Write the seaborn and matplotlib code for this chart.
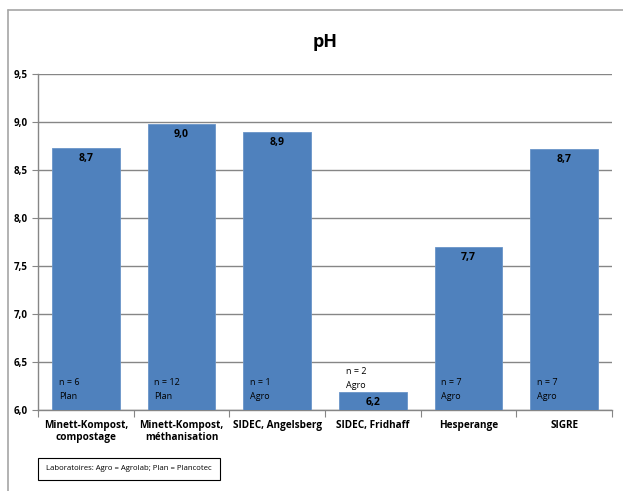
import pandas as pd
import matplotlib.pyplot as plt
import seaborn as sns
from matplotlib.lines import Line2D
from matplotlib.ticker import FuncFormatter

sites = ["Minett-Kompost,\ncompostage", "Minett-Kompost,\nméthanisation",
         "SIDEC, Angelsberg", "SIDEC, Fridhaff", "Hesperange", "SIGRE"]
ph_values = [8.73, 8.98, 8.90, 6.19, 7.70, 8.72]
n_samples = [6, 12, 1, 2, 7, 7]
labs = ["Plan", "Plan", "Agro", "Agro", "Agro", "Agro"]

sns.set_style("white")
plt.rcParams['font.family'] = ['Open Sans', 'DejaVu Sans']
plt.rcParams['text.color'] = 'black'
plt.rcParams['xtick.color'] = 'black'
plt.rcParams['ytick.color'] = 'black'

df = pd.DataFrame({"site": sites, "ph": ph_values})

W, H = 623, 491
fig = plt.figure(figsize=(W / 100, H / 100), dpi=100)
ax = fig.add_axes([38 / W, 1 - 410 / H, (612 - 38) / W, (410 - 74) / H])

sns.barplot(data=df, x="site", y="ph", color="#4F81BD", width=0.71,
            saturation=1, edgecolor="#6A94C8", linewidth=0.6, ax=ax, zorder=3)

ax.set_ylim(6.0, 9.5)
ax.set_xlim(-0.5, len(sites) - 0.5)
ax.set_yticks([6.0 + 0.5 * i for i in range(8)])
ax.yaxis.set_major_formatter(FuncFormatter(lambda v, p: f"{v:.1f}".replace(".", ",")))
ax.grid(axis="y", color="#868686", linewidth=1, zorder=0)
ax.set_axisbelow(True)
ax.set_xlabel("")
ax.set_ylabel("")

for s in ["top", "right"]:
    ax.spines[s].set_visible(False)
for s in ["left", "bottom"]:
    ax.spines[s].set_color("#868686")
    ax.spines[s].set_linewidth(1)

# category separators as ticks
ax.set_xticks([i - 0.5 for i in range(len(sites) + 1)], minor=False)
ax.set_xticklabels([])
ax.set_xticks(range(len(sites)), minor=True)
ax.set_xticklabels(sites, minor=True, fontsize=7.2, fontweight="bold")
ax.tick_params(axis="x", which="major", length=5, color="#868686", direction="out")
ax.tick_params(axis="x", which="minor", length=0, pad=7)
ax.tick_params(axis="y", length=4, color="#868686", labelcolor="black",
               direction="out", labelsize=7)
for t in ax.get_yticklabels():
    t.set_fontweight("bold")
ax.tick_params(axis="x", bottom=True, labelcolor="black")
ax.tick_params(axis="y", left=True)

for i, (v, n, lab) in enumerate(zip(ph_values, n_samples, labs)):
    ax.annotate(f"{v:.1f}".replace(".", ","), (i, v), xytext=(0, -7.5),
                textcoords="offset points", ha="center", va="center",
                fontsize=7.5, fontweight="bold", color="black", zorder=5)
    if v - 6.0 < 0.4:
        y0, off = v, 18
    else:
        y0, off = 6.0, 23
    ax.annotate(f"n = {n}\n{lab}", (i - 0.355, y0), xytext=(5, off),
                textcoords="offset points", ha="left", va="top",
                fontsize=6.5, linespacing=1.75, color="black", zorder=5)

fig.text(325 / W, 1 - 42 / H, "pH", ha="center", va="center",
         fontsize=13, fontweight="bold", color="black")

fig.text(129 / W, 1 - 469 / H, "Laboratoires: Agro = Agrolab; Plan = Plancotec",
         ha="center", va="center", fontsize=5.6, color="black",
         bbox=dict(boxstyle="square,pad=1.0", facecolor="white",
                   edgecolor="black", linewidth=0.8))

# outer chart frame
fig.add_artist(Line2D([8 / W, 8 / W], [0, 1 - 10 / H], color="#A6A6A6", linewidth=1.2))
fig.add_artist(Line2D([8 / W, 1], [1 - 10 / H, 1 - 10 / H], color="#A6A6A6", linewidth=1.2))

fig.savefig("out.png", dpi=100)
